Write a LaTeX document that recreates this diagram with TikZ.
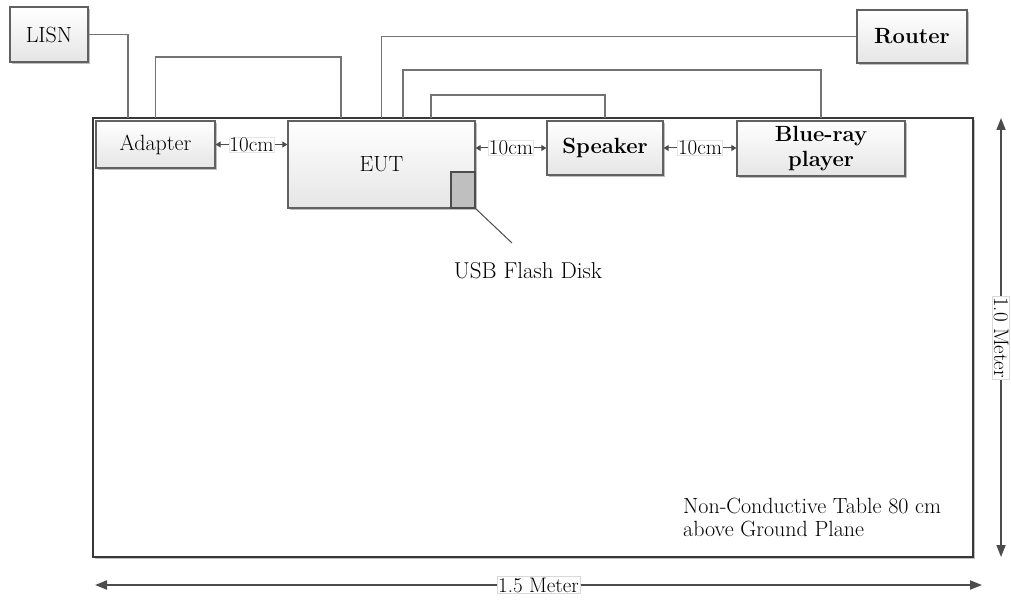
\documentclass[tikz,border=0pt]{standalone}
\usetikzlibrary{shadows,arrows.meta,calc}
\begin{document}
\begin{tikzpicture}[x=1pt,y=-1pt,
  box/.style={draw=black!62, line width=1.3pt, top color=white, bottom color=black!10,
    drop shadow={shadow xshift=2pt, shadow yshift=-2pt, opacity=0.25, fill=black},
    inner sep=0pt, font=\fontsize{22}{25}\selectfont, align=center},
  wire/.style={draw=black!55, line width=1.6pt},
  dim/.style={draw=black!70, line width=1.8pt, {Triangle[length=12pt,width=9pt]}-{Triangle[length=12pt,width=9pt]}},
  gap/.style={draw=black!70, line width=1pt, {Triangle[length=5pt,width=6pt]}-{Triangle[length=5pt,width=6pt]}},
  gaplabel/.style={fill=white, draw=black!10, line width=0.4pt, inner sep=0.5pt, font=\fontsize{21}{23}\selectfont},
  dimlabel/.style={fill=white, draw=black!15, line width=0.5pt, inner sep=1pt, font=\fontsize{21}{23}\selectfont},
  txt/.style={font=\fontsize{22}{23}\selectfont, inner sep=0pt}]
\useasboundingbox (0,0) rectangle (1011,601);
% table
\draw[draw=black!78, line width=2.4pt, fill=white,
  drop shadow={shadow xshift=2pt, shadow yshift=-2pt, opacity=0.25, fill=black}]
  (93,118) rectangle (973,557);
% boxes
\node[box, minimum width=78pt, minimum height=55pt] (lisn) at (49,34.5) {LISN};
\node[box, minimum width=110pt, minimum height=53pt] (router) at (912,36.5) {\bfseries Router};
% wires
\draw[wire] (lisn.east) -| (128,118);
\coordinate (aup) at (155.5,57);
\coordinate (eutA) at (341,57);
\draw[wire] (155.5,118) -- (aup) -- (eutA) -- (341,118);
\coordinate (rt) at (381.5,36.5);
\draw[wire] (381.5,118) -- (rt) -- (router.west);
\coordinate (bu) at (403,70);
\coordinate (bd) at (821,70);
\draw[wire] (403,118) -- (bu) -- (bd) -- (821,118);
\coordinate (su) at (431,95);
\coordinate (sd) at (605,95);
\draw[wire] (431,118) -- (su) -- (sd) -- (605,118);
% table boxes
\node[box, minimum width=119pt, minimum height=47pt] (adapter) at (155.5,144.5) {Adapter};
\node[box, minimum width=187pt, minimum height=87pt] (eut) at (381.5,164.5) {EUT};
\node[draw=black!70, line width=1.3pt, fill=black!25, minimum width=24pt, minimum height=36pt, inner sep=0pt] (usb) at (463,190) {};
\node[box, minimum width=116pt, minimum height=54pt] (speaker) at (605,148) {\bfseries Speaker};
\node[box, minimum width=168pt, minimum height=55pt] (blueray) at (821,148.5) {\bfseries Blue-ray\\[0pt]\bfseries player};
% gaps
\draw[gap] (adapter.east) -- (adapter.east -| eut.west) node[midway, gaplabel] {10cm};
\draw[gap] (speaker.west -| eut.east) -- (speaker.west) node[midway, gaplabel] {10cm};
\draw[gap] (speaker.east) -- (speaker.east -| blueray.west) node[midway, gaplabel] {10cm};
% usb label
\coordinate (usbend) at (512,243);
\draw[black!70, line width=1pt] (usb.south east) -- (usbend);
\node[txt, font=\fontsize{23}{25}\selectfont] (usblabel) at (528,271) {USB Flash Disk};
% table text
\node[txt, anchor=west, align=left] (tabletext) at (683,517) {Non-Conductive Table 80 cm\\[0pt]above Ground Plane};
% dimensions
\coordinate (vt) at (1001,118);
\coordinate (vb) at (1001,557);
\draw[dim] (vt) -- (vb) node[midway, dimlabel, rotate=-90] {1.0 Meter};
\coordinate (hl) at (95,585);
\coordinate (hr) at (982,585);
\draw[dim] (hl) -- (hr) node[midway, dimlabel] {1.5 Meter};
\end{tikzpicture}
\end{document}
